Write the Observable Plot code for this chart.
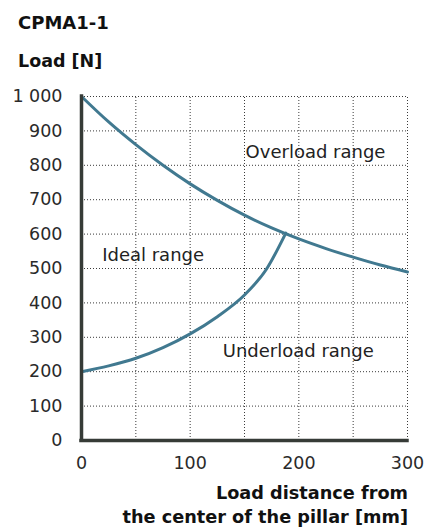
<!DOCTYPE html>
<html>
<head>
<meta charset="utf-8">
<script src="https://cdn.jsdelivr.net/npm/d3@7"></script>
<script src="https://cdn.jsdelivr.net/npm/@observablehq/plot@0.6"></script>
<style>
  html, body { margin: 0; padding: 0; background: #fff; }
  #wrap { position: relative; width: 425px; height: 529px; font-family: "DejaVu Sans", sans-serif; color: #111; }
  .lbl { position: absolute; font-weight: bold; white-space: nowrap; }
  #plot { position: absolute; left: 0; top: 80px; }
</style>
</head>
<body>
<div id="wrap">
  <div class="lbl" id="title" style="left:18px; top:14px; font-size:18px; line-height:18px;"></div>
  <div class="lbl" id="ylabel" style="left:18px; top:52px; font-size:17.5px; line-height:18px;"></div>
  <div id="plot"></div>
  <div class="lbl" id="xlabel" style="right:17px; top:481px; font-size:17.7px; line-height:24px; text-align:right;"></div>
</div>
<script>
// ---- data ----
const titleText = "CPMA1-1";
const yLabelText = "Load [N]";
const xLabelLines = ["Load distance from", "the center of the pillar [mm]"];

const xTicks = [0, 100, 200, 300];
const yTicks = [0, 100, 200, 300, 400, 500, 600, 700, 800, 900, 1000];
const xGrid = [50, 100, 150, 200, 250, 300];
const yGrid = [100, 200, 300, 400, 500, 600, 700, 800, 900, 1000];

// upper boundary (overload limit)
const overloadX = [0, 25, 50, 75, 100, 125, 150, 175, 200, 225, 250, 275, 300];
const overloadY = [1000, 926, 860, 800, 746, 698, 655, 618, 586, 558, 533, 510, 490];

// lower boundary (underload limit)
const underloadX = [0, 25, 50, 75, 100, 125, 150, 170, 188];
const underloadY = [200, 217, 239, 270, 310, 360, 423, 497, 603];

const regionNames = ["Overload range", "Ideal range", "Underload range"];
const regionX = [151, 19, 130];
const regionY = [837, 538, 259];

// ---- build ----
document.getElementById("title").textContent = titleText;
document.getElementById("ylabel").textContent = yLabelText;
document.getElementById("xlabel").innerHTML = xLabelLines.map(s => `<div>${s}</div>`).join("");

const overload = overloadX.map((x, i) => ({x, y: overloadY[i]}));
const underload = underloadX.map((x, i) => ({x, y: underloadY[i]}));
const regions = regionNames.map((t, i) => ({t, x: regionX[i], y: regionY[i]}));

const curveColor = "#417990";
const axisColor = "#363b37";
const gridColor = "#3a3a3a";

const chart = Plot.plot({
  width: 425,
  height: 449,
  marginTop: 16,
  marginBottom: 89,
  marginLeft: 81,
  marginRight: 18,
  style: { fontFamily: "DejaVu Sans, sans-serif", fontSize: "17.5px", color: "#2a2a2a", background: "transparent" },
  x: { domain: [0, 300], ticks: xTicks, tickSize: 0, tickPadding: 16, tickFormat: d => String(d), label: null },
  y: { domain: [0, 1000], ticks: yTicks, tickSize: 0, tickPadding: 19,
       tickFormat: d => d3.format(",")(d).replace(",", " "), label: null },
  marks: [
    Plot.ruleX(xGrid, { y1: 0, y2: 1000, stroke: gridColor, strokeWidth: 1, strokeDasharray: "1,2" }),
    Plot.ruleY(yGrid, { x1: 0, x2: 300, stroke: gridColor, strokeWidth: 1, strokeDasharray: "1,2" }),
    Plot.line(overload, { x: "x", y: "y", curve: "monotone-x", stroke: curveColor, strokeWidth: 3 }),
    Plot.line(underload, { x: "x", y: "y", curve: "monotone-x", stroke: curveColor, strokeWidth: 3 }),
    Plot.ruleX([0], { y1: 0, y2: 1000, stroke: axisColor, strokeWidth: 3.5, strokeLinecap: "square" }),
    Plot.ruleY([0], { x1: 0, x2: 300, stroke: axisColor, strokeWidth: 3.5, strokeLinecap: "square" }),
    Plot.text(regions, { x: "x", y: "y", text: "t", textAnchor: "start", fontSize: 18, fill: "#222" })
  ]
});
document.getElementById("plot").appendChild(chart);
</script>
</body>
</html>
